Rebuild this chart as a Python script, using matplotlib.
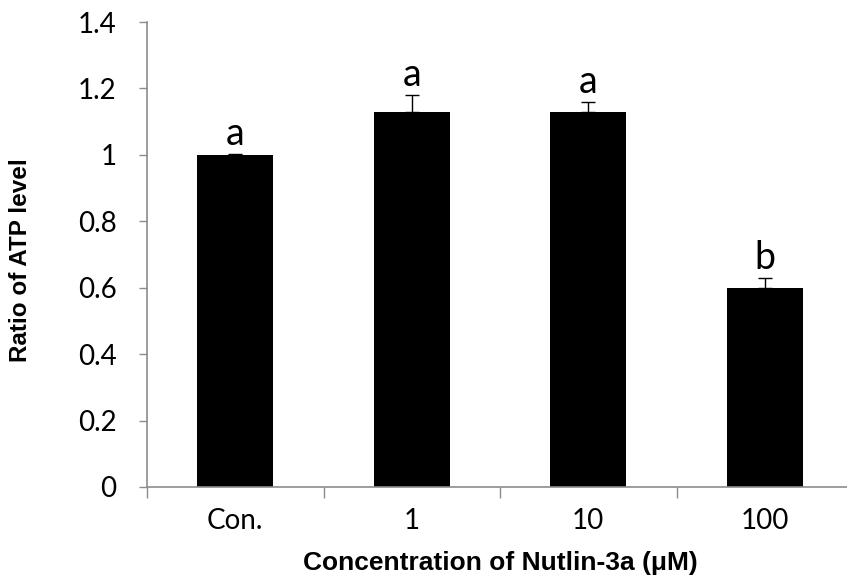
import matplotlib
matplotlib.use("Agg")
import matplotlib.pyplot as plt
import numpy as np

categories = ["Con.", "1", "10", "100"]
atp_ratio = [1.0, 1.13, 1.13, 0.60]
atp_error = [0.003, 0.05, 0.03, 0.03]
group_letters = ["a", "a", "a", "b"]
y_ticks = [0, 0.2, 0.4, 0.6, 0.8, 1, 1.2, 1.4]
y_tick_labels = ["0", "0.2", "0.4", "0.6", "0.8", "1", "1.2", "1.4"]

axis_gray = "#8c8c8c"
tick_font = "Lato"
label_font = "Liberation Sans"

figure = plt.figure(figsize=(8.47, 5.81), dpi=100)
axis = figure.add_axes([0.1736, 0.1618, 0.8335, 0.8003])

positions = np.arange(len(categories))
axis.bar(positions, atp_ratio, width=0.43, color="black", zorder=2)
axis.errorbar(
    positions,
    atp_ratio,
    yerr=[np.zeros(len(atp_error)), atp_error],
    fmt="none",
    ecolor="black",
    elinewidth=1.0,
    capsize=5,
    capthick=1.0,
    zorder=3,
)

for x, value, error, letter in zip(positions, atp_ratio, atp_error, group_letters):
    axis.text(
        x, value + error + 0.006, letter,
        ha="center", va="bottom", fontsize=27, family=tick_font,
    )

axis.set_xlim(-0.5, len(categories) - 0.5)
axis.set_ylim(0, 1.4)

axis.set_yticks(y_ticks)
axis.set_yticklabels(y_tick_labels, family=tick_font, fontsize=20)
axis.set_xticks(positions)
axis.set_xticklabels(categories, family=tick_font, fontsize=20)
axis.tick_params(axis="x", length=0, pad=15)
axis.tick_params(axis="y", length=6, width=1, color=axis_gray, pad=16, direction="out")

# category boundary ticks, Excel style
axis.set_xticks(np.arange(-0.5, len(categories), 1.0), minor=True)
axis.tick_params(axis="x", which="minor", length=8, width=1, color=axis_gray, direction="out")

for side in ["top", "right"]:
    axis.spines[side].set_visible(False)
for side in ["left", "bottom"]:
    axis.spines[side].set_color(axis_gray)
    axis.spines[side].set_linewidth(1.2)

axis.set_ylabel("Ratio of ATP level", family=label_font, fontweight="bold", fontsize=17.5)
axis.set_xlabel("Concentration of Nutlin-3a (μM)", family=label_font,
                fontweight="bold", fontsize=19)
axis.yaxis.set_label_coords(-0.163, 0.488)
axis.xaxis.set_label_coords(0.5, -0.138)

figure.savefig("out.png", dpi=100)
